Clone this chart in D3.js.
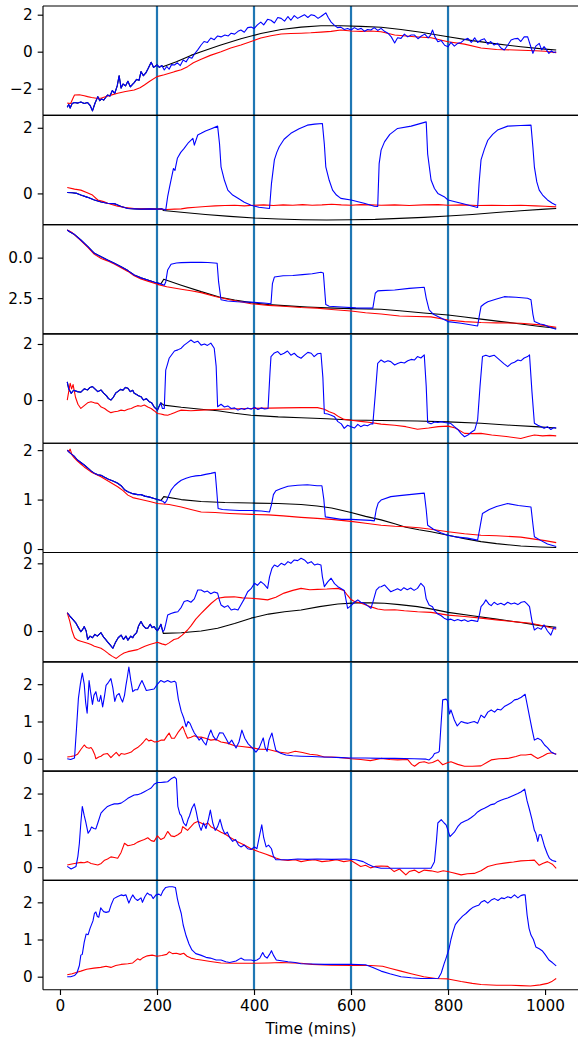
<!DOCTYPE html>
<html><head><meta charset="utf-8">
<script src="https://cdn.jsdelivr.net/npm/d3@7"></script>
<style>body{margin:0;background:#fff}svg{display:block}text{font-family:"DejaVu Sans",sans-serif}</style>
</head><body><svg id="c" width="578" height="1040"></svg>
<script>
const xTicks=[0,200,400,600,800,1000];
const markers=[200,400,600,800];
const xLabel="Time (mins)";
// y limits per panel as [bottom, top] (panel 3 has an inverted axis)
const yDomains=[[-3.44,2.47],[-0.95,2.38],[4.71,-2.04],[-1.54,2.36],[-0.07,2.14],[-0.91,2.32],[-0.33,2.6],[-0.36,2.61],[-0.35,2.59]];
const yTicks=[[-2,0,2],[0,2],[0,2.5],[0,2],[0,1,2],[0,2],[0,1,2],[0,1,2],[0,1,2]];
const yTickFmt=["d","d",".1f","d","d","d","d","d","d"];
const blackSplit=211;

const p1Blue=[[15,-3.0],[18,-2.85],[21,-3.05],[25,-2.8],[30,-2.75],[37,-2.78],[43,-2.72],[50,-2.8],[57,-2.75],[62,-2.9],[67,-3.2],[72,-2.8],[78,-2.43],[82,-2.65],[86,-2.55],[90,-2.62],[95,-2.45],[98,-2.34],[103,-2.4],[108,-2.1],[113,-2.25],[118,-1.85],[122,-1.3],[126,-1.97],[130,-1.75],[135,-1.85],[140,-1.6],[145,-1.9],[150,-1.75],[153,-1.67],[158,-1.5],[163,-1.55],[167,-1.08],[172,-1.3],[177,-1.15],[182,-0.9],[188,-0.57],[193,-0.85],[200,-0.72],[205,-0.85],[210,-0.75],[215,-0.99],[220,-0.8],[225,-0.95],[230,-0.7],[236,-0.72],[242,-0.6],[248,-0.75],[254,-0.45],[260,-0.55],[266,-0.3],[272,-0.35],[278,-0.1],[284,0.1],[291,0.36],[297,0.55],[304,0.5],[311,0.74],[318,0.65],[325,0.85],[332,0.8],[340,0.9],[347,0.85],[353,1.0],[360,0.95],[367,1.1],[373,1.17],[380,1.05],[387,1.3],[394,1.33],[400,1.25],[407,1.45],[414,1.6],[420,1.45],[428,1.75],[435,1.7],[442,1.55],[449,1.85],[456,1.8],[463,1.65],[470,1.9],[476,1.7],[483,1.95],[490,1.8],[497,1.9],[504,2.0],[511,1.85],[518,2.0],[525,1.95],[532,1.8],[538,1.9],[543,2.0],[548,2.1],[553,1.85],[559,1.6],[565,1.45],[572,1.3],[579,1.33],[586,1.2],[593,1.25],[600,1.17],[607,1.3],[614,1.2],[621,1.26],[628,1.1],[634,1.2],[641,1.17],[648,1.3],[655,1.15],[662,1.26],[669,1.1],[676,1.0],[683,0.8],[690,0.47],[696,0.75],[703,0.72],[710,0.95],[717,0.8],[724,0.9],[731,0.9],[738,0.7],[745,0.85],[752,0.95],[759,0.75],[764,0.9],[768,1.17],[773,0.8],[779,0.54],[786,0.6],[793,0.35],[800,0.27],[806,0.5],[813,0.3],[820,0.45],[827,0.5],[834,0.65],[841,0.72],[848,0.5],[855,0.75],[861,0.5],[868,0.63],[875,0.7],[882,0.4],[888,0.55],[895,0.36],[902,0.45],[909,0.2],[916,0.09],[923,0.35],[930,0.63],[937,0.7],[944,0.72],[950,0.55],[957,0.8],[964,0.81],[969,0.4],[975,-0.09],[981,0.3],[988,0.45],[993,0.1],[998,0.27],[1003,0.1],[1008,-0.09],[1013,0.05],[1018,-0.05],[1023,0.0]];
const p1Red=[[15,-2.78],[22,-2.8],[27,-2.5],[30,-2.34],[40,-2.33],[50,-2.38],[57,-2.43],[65,-2.48],[75,-2.52],[84.5,-2.52],[95,-2.42],[105,-2.35],[119,-2.25],[135,-2.15],[153,-2.07],[165,-1.95],[174,-1.8],[185,-1.6],[200,-1.35],[215,-1.25],[236,-1.08],[250,-0.98],[263,-0.81],[275,-0.6],[291,-0.41],[310,-0.2],[332,0.0],[352,0.2],[373,0.36],[394,0.55],[414,0.74],[435,0.86],[456,0.96],[476,0.98],[497,1.0],[517,1.02],[538,1.06],[559,1.1],[579,1.17],[600,1.12],[621,1.1],[641,1.12],[662,1.08],[690,0.9],[731,0.81],[765,0.75],[800,0.54],[834,0.41],[868,0.2],[900,0.12],[937,0.09],[980,0.05],[1000,0.02],[1023,-0.05]];
const p1BlackTail=[[212,-0.81],[240,-0.55],[270,-0.2],[291,0.0],[330,0.35],[373,0.7],[414,0.98],[456,1.2],[497,1.33],[538,1.4],[579,1.4],[620,1.37],[662,1.32],[703,1.2],[744,1.05],[800,0.81],[850,0.6],[900,0.42],[950,0.27],[1000,0.14],[1023,0.09]];

const p2Blue=[[15,0.03],[25,0.02],[35,0.0],[43,-0.05],[57,-0.12],[71,-0.2],[85,-0.26],[98,-0.3],[114,-0.32],[126,-0.4],[140,-0.46],[155,-0.47],[167,-0.48],[185,-0.47],[201,-0.48],[210,-0.47],[218,-0.51],[222,-0.1],[226,0.2],[229,0.41],[234,0.76],[237,0.7],[242,1.07],[249,1.25],[256,1.37],[265,1.55],[274,1.68],[277,1.47],[284,1.78],[291,1.83],[300,1.9],[312,1.97],[325,2.05],[329,1.5],[332,0.81],[339,0.4],[346,0.1],[356,-0.05],[367,-0.15],[380,-0.27],[394,-0.36],[410,-0.42],[432,-0.46],[436,0.3],[442,1.02],[447,1.25],[452,1.42],[462,1.65],[476,1.83],[493,1.97],[510,2.08],[525,2.11],[541,2.13],[545,1.5],[548,0.81],[555,0.4],[562,0.1],[570,-0.05],[579,-0.15],[600,-0.2],[627,-0.3],[648,-0.39],[655,-0.4],[658,0.91],[662,1.32],[669,1.57],[680,1.8],[696,1.98],[724,2.05],[755,2.18],[758,1.2],[765,0.41],[772,0.15],[779,0.0],[792,-0.1],[800,-0.2],[827,-0.3],[861,-0.43],[864,0.3],[868,1.02],[875,1.35],[882,1.62],[892,1.8],[902,1.93],[923,2.05],[950,2.07],[971,2.08],[975,1.4],[978,0.81],[983,0.35],[988,0.1],[995,-0.05],[1005,-0.2],[1015,-0.3],[1023,-0.36]];
const p2Red=[[15,0.18],[30,0.13],[43,0.1],[55,0.03],[67,-0.05],[78,-0.2],[90,-0.25],[98,-0.3],[110,-0.35],[119,-0.39],[135,-0.43],[153,-0.46],[175,-0.47],[201,-0.48],[220,-0.49],[236,-0.48],[250,-0.47],[263,-0.44],[280,-0.42],[300,-0.4],[320,-0.38],[340,-0.37],[360,-0.36],[380,-0.38],[400,-0.36],[420,-0.35],[440,-0.37],[460,-0.35],[480,-0.36],[500,-0.34],[520,-0.36],[540,-0.35],[560,-0.33],[580,-0.35],[600,-0.36],[620,-0.34],[640,-0.35],[662,-0.36],[690,-0.35],[720,-0.37],[750,-0.35],[780,-0.34],[800,-0.36],[830,-0.35],[860,-0.37],[890,-0.36],[920,-0.37],[950,-0.36],[980,-0.38],[1000,-0.39],[1023,-0.41]];
const p2BlackTail=[[213,-0.52],[256,-0.58],[300,-0.64],[350,-0.7],[400,-0.75],[450,-0.78],[500,-0.8],[550,-0.81],[600,-0.8],[650,-0.79],[700,-0.76],[750,-0.73],[800,-0.69],[850,-0.64],[900,-0.58],[950,-0.53],[1000,-0.48],[1023,-0.46]];

const p3Blue=[[15,-1.71],[20,-1.6],[29,-1.45],[43,-1.09],[57,-0.7],[71,-0.27],[85,-0.05],[98,0.14],[112,0.35],[126,0.56],[140,0.8],[153,1.07],[167,1.25],[181,1.38],[195,1.52],[208,1.62],[215,1.7],[218,1.5],[222,0.76],[229,0.41],[240,0.33],[250,0.31],[270,0.29],[291,0.29],[305,0.3],[318,0.33],[324,0.35],[327,1.5],[332,2.6],[345,2.68],[365,2.72],[394,2.75],[420,2.8],[435,2.85],[438,1.6],[442,1.2],[460,1.12],[480,1.1],[500,1.05],[520,1.0],[538,0.9],[543,0.95],[548,2.9],[555,3.0],[580,3.05],[610,3.1],[645,3.12],[650,2.2],[655,2.05],[662,2.04],[690,2.0],[720,1.9],[751,1.83],[755,2.5],[761,3.23],[770,3.5],[779,3.64],[800,3.95],[827,4.05],[861,4.22],[865,3.5],[868,3.02],[875,2.85],[882,2.72],[900,2.55],[916,2.41],[940,2.45],[964,2.51],[971,2.6],[975,3.5],[978,3.95],[990,4.1],[998,4.15],[1010,4.3],[1023,4.42]];
const p3Red=[[15,-1.7],[25,-1.55],[43,-1.05],[57,-0.65],[71,-0.2],[85,0.05],[98,0.2],[112,0.4],[126,0.62],[140,0.85],[153,1.12],[167,1.32],[181,1.45],[201,1.65],[220,1.8],[250,1.95],[270,2.05],[291,2.16],[320,2.4],[350,2.6],[394,2.85],[430,2.95],[460,3.0],[497,3.08],[530,3.12],[560,3.2],[600,3.3],[630,3.4],[662,3.48],[700,3.6],[735,3.64],[765,3.66],[800,3.85],[834,3.95],[868,4.01],[900,4.03],[950,4.05],[990,4.15],[1023,4.3]];
const p3BlackTail=[[214,1.33],[250,1.7],[291,2.1],[330,2.45],[360,2.62],[394,2.78],[430,2.9],[470,2.98],[510,3.05],[550,3.1],[600,3.15],[662,3.19],[700,3.28],[750,3.42],[800,3.54],[834,3.67],[868,3.8],[910,3.95],[950,4.1],[990,4.25],[1023,4.36]];

const p4Blue=[[15,0.65],[18,0.4],[23,0.24],[28,0.35],[36,0.3],[43,0.28],[50,0.4],[57,0.36],[62,0.45],[67,0.48],[72,0.4],[78,0.3],[84.5,0.36],[90,0.25],[96,0.15],[100,0.05],[105,0.0],[110,0.1],[115,0.25],[119,0.3],[125,0.38],[130,0.35],[135,0.45],[140,0.42],[145,0.3],[150,0.35],[153,0.24],[158,0.2],[162,0.15],[167,0.12],[172,0.0],[178,0.05],[184,-0.06],[189,-0.1],[194,-0.24],[197,-0.3],[201,-0.36],[205,-0.2],[208,-0.1],[211,-0.3],[215,-0.3],[218,1.07],[222,1.3],[225,1.49],[236,1.75],[243,1.79],[250,1.85],[256,1.96],[263,2.05],[270,2.14],[277,2.05],[284,2.1],[291,1.96],[298,2.0],[304,1.95],[311,2.03],[318,1.85],[322,1.2],[325,-0.24],[332,-0.15],[339,-0.25],[346,-0.21],[353,-0.3],[360,-0.28],[367,-0.36],[374,-0.3],[380,-0.34],[387,-0.28],[394,-0.33],[401,-0.26],[408,-0.34],[415,-0.28],[422,-0.32],[429,-0.3],[433,1.0],[435,1.55],[442,1.68],[449,1.73],[455,1.62],[462,1.67],[469,1.75],[476,1.6],[483,1.67],[490,1.55],[497,1.49],[504,1.6],[511,1.7],[518,1.67],[524,1.55],[531,1.65],[538,1.67],[542,0.8],[545,-0.48],[552,-0.5],[559,-0.54],[566,-0.6],[573,-0.77],[580,-0.85],[586,-1.01],[593,-0.9],[600,-0.95],[607,-1.0],[614,-0.87],[620,-0.95],[627,-0.89],[634,-0.92],[641,-0.85],[645,-0.85],[650,0.2],[655,1.31],[662,1.43],[669,1.35],[676,1.4],[682,1.37],[690,1.25],[696,1.3],[703,1.35],[710,1.32],[717,1.4],[724,1.45],[731,1.43],[737,1.55],[744,1.5],[751,1.61],[755,0.5],[758,-0.8],[765,-0.85],[772,-0.78],[779,-0.8],[786,-0.77],[793,-0.8],[800,-0.82],[806,-0.84],[813,-0.95],[820,-1.05],[827,-1.2],[834,-1.31],[841,-1.25],[848,-1.15],[855,-1.07],[861,-0.71],[866,0.5],[871,1.55],[878,1.6],[885,1.55],[895,1.6],[905,1.45],[915,1.3],[923,1.19],[930,1.3],[937,1.35],[944,1.43],[950,1.4],[957,1.5],[964,1.55],[968,1.61],[973,0.3],[978,-0.83],[985,-0.9],[992,-0.95],[998,-1.01],[1005,-0.95],[1012,-1.05],[1018,-0.98],[1023,-1.01]];
const p4Red=[[15,0.0],[18,0.3],[21,0.6],[24,0.4],[27,0.55],[32,0.1],[37,-0.15],[43,-0.3],[50,-0.2],[57,-0.1],[64,-0.06],[71,-0.1],[78,-0.12],[85,-0.25],[92,-0.3],[98,-0.38],[105,-0.45],[112,-0.42],[119,-0.4],[126,-0.36],[133,-0.38],[140,-0.33],[147,-0.3],[153,-0.25],[160,-0.2],[167,-0.22],[174,-0.18],[181,-0.25],[188,-0.3],[194,-0.38],[201,-0.48],[208,-0.5],[215,-0.53],[222,-0.54],[229,-0.5],[236,-0.45],[243,-0.4],[250,-0.36],[270,-0.38],[291,-0.36],[320,-0.34],[350,-0.32],[394,-0.3],[430,-0.29],[460,-0.28],[497,-0.27],[531,-0.27],[545,-0.33],[555,-0.42],[565,-0.48],[575,-0.6],[586,-0.69],[600,-0.72],[620,-0.76],[640,-0.8],[662,-0.86],[690,-0.9],[713,-0.95],[737,-1.04],[760,-1.0],[780,-0.95],[800,-0.93],[815,-1.0],[834,-1.19],[850,-1.2],[868,-1.19],[890,-1.25],[920,-1.3],[950,-1.37],[965,-1.3],[978,-1.25],[995,-1.28],[1010,-1.26],[1023,-1.28]];
const p4BlackTail=[[214,-0.18],[250,-0.26],[291,-0.33],[325,-0.38],[360,-0.47],[394,-0.54],[450,-0.6],[497,-0.63],[550,-0.67],[600,-0.71],[662,-0.73],[737,-0.75],[800,-0.78],[868,-0.83],[930,-0.9],[980,-0.95],[1023,-1.0]];

const p5Blue=[[15,2.0],[20,1.95],[29,1.88],[36,1.8],[43,1.75],[50,1.7],[57,1.64],[64,1.58],[71,1.53],[78,1.5],[84.5,1.49],[92,1.45],[100,1.41],[108,1.38],[115,1.35],[119,1.33],[126,1.28],[133,1.2],[140,1.16],[150,1.12],[160,1.1],[167,1.1],[175,1.07],[185,1.05],[194,1.02],[201,1.0],[208,0.98],[213,0.96],[216,0.93],[220,0.98],[225,1.1],[229,1.19],[236,1.28],[243,1.34],[250,1.39],[260,1.43],[270,1.46],[280,1.48],[291,1.49],[300,1.51],[311,1.53],[320,1.55],[323,1.2],[326,0.82],[335,0.8],[350,0.79],[370,0.78],[394,0.78],[415,0.77],[432,0.75],[436,0.9],[440,1.1],[445,1.18],[455,1.22],[470,1.27],[490,1.29],[510,1.3],[530,1.28],[540,1.28],[544,1.0],[547,0.65],[560,0.63],[580,0.6],[600,0.6],[620,0.59],[640,0.58],[648,0.57],[652,0.8],[656,0.93],[662,0.99],[682,1.06],[700,1.08],[720,1.1],[740,1.12],[751,1.13],[755,0.8],[758,0.48],[770,0.4],[785,0.33],[799,0.28],[820,0.24],[840,0.22],[861,0.18],[866,0.45],[871,0.72],[885,0.8],[900,0.86],[923,0.92],[945,0.88],[971,0.85],[975,0.5],[978,0.25],[990,0.18],[1005,0.1],[1023,0.05]];
const p5Red=[[15,2.0],[18,1.97],[21,2.02],[25,1.9],[29,1.85],[36,1.78],[43,1.72],[50,1.66],[64,1.56],[78,1.49],[84.5,1.46],[100,1.37],[119,1.26],[130,1.18],[140,1.09],[150,1.04],[167,1.0],[185,0.96],[201,0.92],[225,0.9],[250,0.85],[270,0.8],[291,0.75],[320,0.74],[350,0.72],[394,0.7],[430,0.69],[460,0.67],[497,0.64],[530,0.62],[560,0.6],[600,0.56],[630,0.52],[662,0.48],[690,0.46],[713,0.45],[740,0.43],[765,0.4],[800,0.35],[834,0.31],[868,0.28],[900,0.27],[950,0.24],[978,0.2],[1000,0.17],[1023,0.13]];
const p5BlackTail=[[214,1.06],[250,1.0],[291,0.96],[340,0.94],[394,0.93],[450,0.92],[497,0.9],[530,0.87],[560,0.83],[600,0.74],[630,0.66],[662,0.59],[690,0.51],[713,0.44],[740,0.39],[765,0.35],[800,0.28],[834,0.21],[868,0.15],[900,0.11],[950,0.06],[990,0.04],[1023,0.03]];

const p6Blue=[[15,0.54],[20,0.45],[26,0.35],[33,0.23],[38,0.1],[43,-0.02],[47,0.05],[50,0.13],[54,0.0],[57,-0.25],[62,-0.15],[67,-0.2],[72,-0.1],[77,-0.15],[84.5,-0.05],[90,-0.18],[94,-0.25],[98,-0.32],[103,-0.4],[109,-0.51],[114,-0.35],[120,-0.2],[126,-0.12],[131,-0.25],[136,-0.15],[140,-0.27],[146,-0.15],[150,-0.2],[153,-0.12],[158,-0.05],[162,0.15],[167,0.28],[172,0.15],[177,0.08],[181,0.08],[186,0.2],[190,0.1],[194,0.13],[198,0.05],[201,0.01],[205,0.1],[208,0.2],[212,-0.02],[215,0.03],[218,0.2],[222,0.47],[229,0.52],[236,0.55],[243,0.57],[250,0.7],[256,0.87],[263,0.9],[270,0.85],[277,0.95],[284,1.21],[291,1.21],[298,1.15],[304,1.18],[311,1.1],[318,1.15],[325,1.12],[329,0.9],[332,0.77],[339,0.7],[346,0.75],[353,0.62],[360,0.65],[367,0.62],[374,0.8],[380,0.95],[387,1.16],[394,1.25],[401,1.41],[407,1.35],[414,1.46],[421,1.38],[428,1.26],[432,1.6],[437,1.85],[442,1.95],[449,1.9],[456,2.0],[463,1.95],[470,2.05],[476,2.0],[483,2.1],[490,2.08],[497,2.15],[504,2.1],[511,2.0],[518,2.05],[525,1.95],[531,1.98],[538,1.95],[541,1.6],[545,1.31],[552,1.45],[559,1.56],[566,1.4],[573,1.31],[580,1.25],[586,1.2],[590,0.9],[593,0.67],[600,0.75],[607,0.85],[614,0.92],[620,0.85],[627,0.82],[634,0.75],[641,0.67],[646,0.9],[652,1.21],[658,1.3],[662,1.31],[669,1.36],[676,1.25],[682,1.16],[690,1.21],[696,1.25],[703,1.2],[709,1.28],[716,1.22],[723,1.27],[730,1.2],[737,1.26],[744,1.41],[748,1.35],[751,1.3],[755,0.95],[761,0.77],[768,0.72],[772,0.6],[779,0.5],[786,0.45],[792,0.38],[799,0.33],[806,0.35],[813,0.3],[820,0.34],[827,0.3],[834,0.33],[841,0.28],[848,0.32],[855,0.3],[861,0.28],[865,0.5],[868,0.72],[873,0.8],[878,0.92],[884,0.8],[889,0.75],[895,0.85],[902,0.78],[909,0.82],[916,0.77],[923,0.85],[930,0.8],[937,0.83],[944,0.78],[951,0.85],[958,0.87],[963,0.8],[968,0.72],[973,0.3],[978,0.03],[985,0.1],[992,0.05],[998,0.18],[1005,0.0],[1012,-0.12],[1018,0.1],[1023,0.08]];
const p6Red=[[15,0.54],[20,0.3],[25,0.0],[30,-0.2],[36,-0.27],[43,-0.3],[50,-0.33],[57,-0.36],[64,-0.4],[71,-0.45],[78,-0.48],[84.5,-0.51],[92,-0.58],[100,-0.67],[108,-0.75],[116,-0.81],[124,-0.72],[132,-0.65],[140,-0.61],[150,-0.58],[160,-0.55],[167,-0.5],[175,-0.45],[185,-0.4],[194,-0.36],[201,-0.33],[210,-0.38],[218,-0.41],[225,-0.35],[235,-0.25],[243,-0.22],[252,-0.12],[263,0.03],[270,0.15],[280,0.35],[291,0.52],[300,0.65],[312,0.82],[325,0.97],[340,1.0],[359,1.01],[376,0.98],[394,0.97],[410,0.95],[428,0.92],[445,1.0],[462,1.12],[480,1.2],[497,1.26],[515,1.22],[531,1.23],[550,1.24],[573,1.26],[585,1.2],[593,1.05],[600,0.93],[607,0.87],[620,0.83],[640,0.72],[655,0.65],[669,0.62],[690,0.63],[710,0.6],[737,0.57],[765,0.55],[800,0.47],[834,0.43],[868,0.38],[900,0.33],[940,0.27],[971,0.23],[1000,0.14],[1023,0.05]];
const p6BlackTail=[[213,-0.07],[250,-0.05],[291,0.0],[325,0.08],[360,0.22],[394,0.38],[430,0.5],[463,0.57],[497,0.62],[535,0.72],[573,0.8],[610,0.83],[640,0.83],[669,0.82],[700,0.78],[737,0.72],[770,0.64],[800,0.55],[850,0.45],[900,0.35],[950,0.25],[990,0.16],[1023,0.11]];

const p7Blue=[[15,0.0],[22,-0.02],[30,0.02],[34,0.8],[38,1.62],[42,2.0],[46,2.3],[50,2.0],[53,1.5],[56,1.22],[60,2.1],[63,1.8],[67,1.46],[70,1.7],[74,1.8],[78,1.55],[81,1.54],[84,1.7],[88,1.39],[92,1.7],[95,1.97],[100,2.05],[105,2.15],[109,1.9],[113,1.54],[117,1.7],[122,1.75],[126,1.6],[129,1.52],[133,1.7],[136,1.97],[139,2.2],[142,2.46],[146,2.1],[150,1.8],[155,1.85],[160,1.85],[165,2.0],[169,2.1],[174,1.95],[178,1.83],[186,1.85],[194,1.87],[201,2.0],[208,2.1],[215,2.05],[222,2.1],[229,2.05],[236,2.08],[239,2.05],[244,1.6],[250,1.27],[255,1.1],[260,0.86],[264,1.0],[268,0.95],[273,0.8],[277,0.69],[282,0.6],[287,0.5],[291,0.56],[296,0.45],[301,0.37],[306,0.6],[311,0.77],[316,0.6],[322,0.5],[329,0.7],[336,0.69],[342,0.55],[348,0.4],[354,0.5],[363,0.29],[369,0.45],[375,0.77],[381,0.55],[388,0.4],[396,0.3],[404,0.18],[411,0.3],[419,0.56],[423,0.3],[427,0.2],[431,0.5],[437,0.69],[441,0.45],[445,0.23],[455,0.15],[466,0.1],[480,0.08],[497,0.07],[520,0.06],[540,0.05],[559,0.04],[580,0.03],[600,0.02],[630,0.02],[662,0.01],[690,0.01],[730,0.0],[755,-0.01],[761,-0.03],[768,0.05],[772,0.14],[779,0.17],[782,0.2],[786,1.0],[789,1.58],[796,1.6],[799,1.55],[803,1.2],[806,1.31],[813,1.04],[819,0.88],[827,1.0],[834,0.97],[841,0.95],[848,0.98],[854,1.0],[861,0.95],[868,1.17],[875,1.1],[882,1.25],[889,1.31],[896,1.25],[902,1.33],[909,1.31],[916,1.4],[923,1.45],[930,1.5],[937,1.58],[944,1.6],[951,1.65],[959,1.73],[968,1.13],[973,0.8],[978,0.5],[985,0.55],[992,0.5],[999,0.37],[1005,0.3],[1012,0.19],[1018,0.14],[1023,0.12]];
const p7Red=[[15,0.05],[22,0.06],[30,0.08],[36,0.12],[43,0.25],[50,0.37],[55,0.3],[60,0.28],[64,0.3],[67,0.25],[72,0.1],[74,0.0],[80,0.05],[84.5,0.07],[90,0.12],[98,0.14],[105,0.03],[110,0.1],[116,0.17],[122,0.08],[126,0.14],[133,0.12],[140,0.15],[147,0.18],[153,0.25],[160,0.3],[167,0.38],[172,0.45],[178,0.54],[183,0.48],[188,0.5],[195,0.45],[201,0.46],[208,0.5],[215,0.5],[220,0.6],[225,0.69],[230,0.55],[236,0.55],[243,0.7],[249,0.8],[253,0.87],[258,0.7],[263,0.55],[270,0.58],[277,0.62],[284,0.58],[291,0.58],[300,0.55],[311,0.5],[322,0.52],[332,0.45],[345,0.42],[360,0.35],[375,0.33],[394,0.3],[410,0.26],[430,0.25],[450,0.18],[470,0.15],[485,0.2],[500,0.17],[515,0.12],[530,0.1],[545,0.05],[560,0.05],[580,0.03],[600,0.0],[620,-0.02],[640,-0.05],[662,0.01],[680,-0.02],[696,-0.03],[717,-0.02],[725,-0.15],[731,-0.2],[741,-0.1],[751,-0.08],[760,-0.12],[768,-0.1],[779,-0.03],[789,-0.16],[800,-0.1],[806,-0.08],[820,-0.15],[834,-0.2],[850,-0.2],[868,-0.19],[880,-0.1],[889,-0.03],[905,0.0],[923,0.01],[940,0.06],[950,0.1],[960,0.1],[971,0.12],[978,0.06],[985,0.01],[995,0.07],[1005,0.14],[1015,0.16],[1023,0.12]];

const p8Blue=[[15,0.02],[23,-0.05],[30,0.0],[33,0.02],[37,0.3],[40,0.65],[43,1.2],[46,1.65],[50,1.4],[53,1.24],[58,0.92],[62,1.0],[65,1.09],[70,1.05],[74,1.04],[78,1.2],[84.5,1.47],[90,1.55],[98,1.65],[105,1.69],[112,1.72],[119,1.72],[126,1.74],[133,1.8],[140,1.87],[147,1.92],[153,1.96],[160,1.97],[167,2.0],[174,2.05],[181,2.1],[188,2.15],[194,2.25],[201,2.3],[208,2.3],[215,2.31],[222,2.32],[229,2.4],[236,2.45],[240,2.4],[243,1.65],[247,1.45],[250,1.4],[255,1.2],[260,1.12],[264,1.3],[267,1.39],[272,1.6],[277,1.72],[281,1.5],[284,1.3],[288,1.1],[291,1.0],[296,1.2],[301,1.05],[306,1.3],[310,1.55],[315,1.2],[320,1.0],[325,1.1],[330,1.3],[335,1.05],[340,0.9],[345,0.95],[350,0.8],[356,0.7],[362,0.75],[368,0.6],[373,0.55],[380,0.6],[387,0.5],[394,0.48],[401,0.55],[406,0.5],[412,0.9],[416,1.15],[420,0.8],[425,0.55],[430,0.6],[436,0.5],[440,0.3],[445,0.2],[456,0.2],[470,0.2],[490,0.22],[510,0.21],[530,0.22],[560,0.21],[590,0.22],[610,0.2],[625,0.15],[635,0.08],[645,0.02],[662,-0.03],[700,-0.03],[730,-0.03],[765,-0.03],[772,0.15],[776,0.7],[779,1.2],[786,1.29],[792,1.2],[796,1.15],[800,1.0],[804,0.83],[809,0.9],[813,0.95],[820,1.1],[827,1.2],[834,1.25],[841,1.29],[848,1.35],[855,1.42],[861,1.5],[868,1.56],[875,1.6],[882,1.65],[889,1.7],[896,1.72],[902,1.78],[909,1.82],[916,1.85],[923,1.88],[930,1.92],[937,1.96],[944,2.0],[951,2.05],[958,2.12],[963,1.8],[968,1.56],[973,1.3],[978,1.0],[981,0.92],[985,0.7],[988,0.88],[992,0.88],[996,0.7],[999,0.56],[1005,0.35],[1009,0.24],[1015,0.18],[1023,0.15]];
const p8Red=[[15,0.06],[22,0.08],[30,0.1],[43,0.13],[50,0.12],[57,0.15],[64,0.1],[71,0.08],[78,0.06],[85,0.1],[92,0.19],[98,0.22],[105,0.28],[112,0.26],[119,0.24],[126,0.4],[133,0.65],[140,0.58],[147,0.6],[153,0.62],[160,0.68],[167,0.72],[174,0.75],[181,0.8],[188,0.72],[194,0.7],[201,0.85],[208,0.75],[215,0.8],[222,0.97],[229,0.85],[236,0.83],[243,0.88],[250,0.95],[253,1.1],[258,1.05],[263,1.0],[270,1.1],[277,1.2],[284,1.24],[291,1.2],[298,1.15],[305,1.2],[311,1.1],[318,1.05],[325,1.0],[332,0.95],[340,0.9],[352,0.8],[365,0.7],[380,0.6],[394,0.5],[410,0.42],[425,0.35],[435,0.3],[445,0.25],[456,0.2],[470,0.18],[485,0.2],[497,0.15],[510,0.18],[525,0.2],[540,0.15],[555,0.17],[570,0.2],[585,0.15],[600,0.18],[610,0.1],[620,0.02],[630,0.05],[640,-0.02],[650,0.02],[662,0.03],[676,0.02],[689,-0.12],[700,-0.05],[713,-0.21],[720,-0.12],[731,-0.08],[740,-0.15],[751,-0.08],[765,-0.1],[779,-0.14],[790,-0.1],[799,-0.12],[810,-0.15],[827,-0.21],[840,-0.18],[854,-0.17],[868,-0.1],[882,0.02],[900,0.08],[916,0.11],[935,0.14],[950,0.17],[965,0.18],[978,0.19],[988,0.05],[995,0.1],[1005,0.15],[1015,0.08],[1023,-0.03]];

const p9Blue=[[15,0.0],[22,0.0],[30,0.03],[35,0.1],[40,0.3],[43,0.58],[46,0.6],[50,0.93],[54,1.15],[58,1.13],[62,1.3],[68,1.5],[71,1.7],[74,1.74],[77,1.62],[80,1.6],[84,1.85],[87,1.8],[90,1.75],[95,1.73],[101,1.75],[106,1.95],[111,2.1],[118,2.15],[126,2.2],[131,2.18],[136,2.2],[140,2.05],[142,1.98],[146,2.1],[150,2.2],[155,2.1],[160,2.05],[167,2.12],[170,2.0],[175,2.15],[180,2.25],[185,2.2],[188,2.2],[192,2.1],[198,2.2],[204,2.22],[208,2.18],[212,2.3],[218,2.4],[225,2.42],[232,2.42],[238,2.4],[242,2.1],[245,1.93],[250,1.7],[254,1.39],[260,1.1],[266,0.88],[272,0.72],[280,0.62],[290,0.58],[301,0.52],[310,0.5],[322,0.45],[332,0.45],[342,0.4],[350,0.38],[363,0.42],[373,0.5],[380,0.45],[394,0.45],[400,0.43],[406,0.45],[412,0.5],[418,0.65],[422,0.55],[427,0.5],[432,0.6],[436,0.7],[440,0.58],[446,0.45],[456,0.43],[470,0.4],[485,0.38],[497,0.35],[520,0.34],[545,0.33],[570,0.33],[600,0.33],[630,0.32],[645,0.25],[662,0.15],[680,0.08],[703,0.0],[724,-0.03],[744,-0.05],[765,-0.05],[780,-0.04],[786,0.1],[792,0.35],[796,0.5],[802,0.75],[806,1.0],[810,1.2],[815,1.4],[821,1.5],[830,1.63],[837,1.7],[845,1.8],[852,1.87],[858,1.9],[863,1.92],[868,2.0],[875,2.05],[882,1.98],[889,2.06],[896,2.1],[903,2.05],[910,2.12],[916,2.1],[923,2.15],[930,2.12],[937,2.2],[944,2.12],[950,2.18],[955,2.2],[959,2.2],[963,1.66],[967,1.3],[971,1.12],[976,1.0],[981,0.8],[988,0.75],[994,0.7],[1000,0.6],[1008,0.45],[1015,0.38],[1023,0.29]];
const p9Red=[[15,0.05],[25,0.08],[35,0.12],[43,0.15],[55,0.2],[70,0.23],[84,0.25],[95,0.28],[105,0.25],[115,0.3],[126,0.33],[140,0.35],[150,0.37],[160,0.48],[165,0.45],[170,0.5],[180,0.56],[190,0.58],[200,0.55],[210,0.57],[220,0.6],[225,0.67],[232,0.62],[240,0.63],[248,0.6],[255,0.63],[262,0.55],[270,0.5],[280,0.47],[291,0.45],[310,0.41],[332,0.37],[360,0.36],[394,0.36],[430,0.37],[456,0.38],[480,0.37],[497,0.36],[520,0.33],[559,0.31],[600,0.3],[641,0.3],[665,0.28],[682,0.22],[703,0.15],[724,0.08],[750,0.0],[775,-0.05],[800,-0.06],[827,-0.13],[850,-0.18],[868,-0.21],[900,-0.23],[930,-0.23],[950,-0.24],[970,-0.25],[990,-0.22],[1005,-0.18],[1015,-0.12],[1023,-0.05]];

const panels=[
 {blue:p1Blue,red:p1Red,blackTail:p1BlackTail},
 {blue:p2Blue,red:p2Red,blackTail:p2BlackTail},
 {blue:p3Blue,red:p3Red,blackTail:p3BlackTail},
 {blue:p4Blue,red:p4Red,blackTail:p4BlackTail},
 {blue:p5Blue,red:p5Red,blackTail:p5BlackTail},
 {blue:p6Blue,red:p6Red,blackTail:p6BlackTail},
 {blue:p7Blue,red:p7Red,blackTail:null},
 {blue:p8Blue,red:p8Red,blackTail:null},
 {blue:p9Blue,red:p9Red,blackTail:null}
];

const svg=d3.select("#c");
const L=43,R=579,T=6,B=989.7;
const ph=(B-T)/panels.length;
const x=d3.scaleLinear().domain([-35,1070]).range([L,R]);
const fs=15.3, tickLen=5.3, tickPad=5.1, spineW=1.15;

panels.forEach((p,i)=>{
  const top=T+i*ph, bot=top+ph;
  const y=d3.scaleLinear().domain(yDomains[i]).range([bot,top]);
  const g=svg.append("g");
  const line=d3.line().x(d=>x(d[0])).y(d=>y(d[1]));
  g.selectAll("line.mk").data(markers).join("line").attr("class","mk")
    .attr("x1",d=>x(d)).attr("x2",d=>x(d)).attr("y1",top).attr("y2",bot)
    .attr("stroke","#1f77b4").attr("stroke-width",2.2);
  if(p.blackTail){
    const black=p.blue.filter(d=>d[0]<blackSplit).concat(p.blackTail);
    g.append("path").attr("d",line(black)).attr("fill","none").attr("stroke","#000").attr("stroke-width",1.1).attr("stroke-linejoin","round");
  }
  g.append("path").attr("d",line(p.red)).attr("fill","none").attr("stroke","#ff0000").attr("stroke-width",1.1).attr("stroke-linejoin","round");
  g.append("path").attr("d",line(p.blue)).attr("fill","none").attr("stroke","#0000ff").attr("stroke-width",1.1).attr("stroke-linejoin","round");
  const ax=d3.axisLeft(y).tickValues(yTicks[i]).tickFormat(d3.format(yTickFmt[i])).tickSize(tickLen).tickPadding(tickPad);
  const ag=g.append("g").attr("transform",`translate(${L},0)`).call(ax);
  ag.select(".domain").remove();
  ag.selectAll(".tick line").attr("stroke","#000").attr("stroke-width",spineW);
  ag.selectAll(".tick text").attr("font-size",fs).attr("font-family","DejaVu Sans").attr("fill","#000");
  g.append("line").attr("x1",L).attr("x2",R).attr("y1",top).attr("y2",top).attr("stroke","#000").attr("stroke-width",spineW);
  g.append("line").attr("x1",L).attr("x2",R).attr("y1",bot).attr("y2",bot).attr("stroke","#000").attr("stroke-width",spineW);
  g.append("line").attr("x1",L).attr("x2",L).attr("y1",top).attr("y2",bot).attr("stroke","#000").attr("stroke-width",spineW);
});

const xa=d3.axisBottom(x).tickValues(xTicks).tickFormat(d3.format("d")).tickSize(tickLen).tickPadding(tickPad);
const xg=svg.append("g").attr("transform",`translate(0,${B})`).call(xa);
xg.select(".domain").remove();
xg.selectAll(".tick line").attr("stroke","#000").attr("stroke-width",spineW);
xg.selectAll(".tick text").attr("font-size",fs).attr("font-family","DejaVu Sans").attr("fill","#000");
svg.append("text").attr("x",(L+R)/2).attr("y",1034).attr("text-anchor","middle")
  .attr("font-size",fs).attr("fill","#000").text(xLabel);
</script></body></html>
